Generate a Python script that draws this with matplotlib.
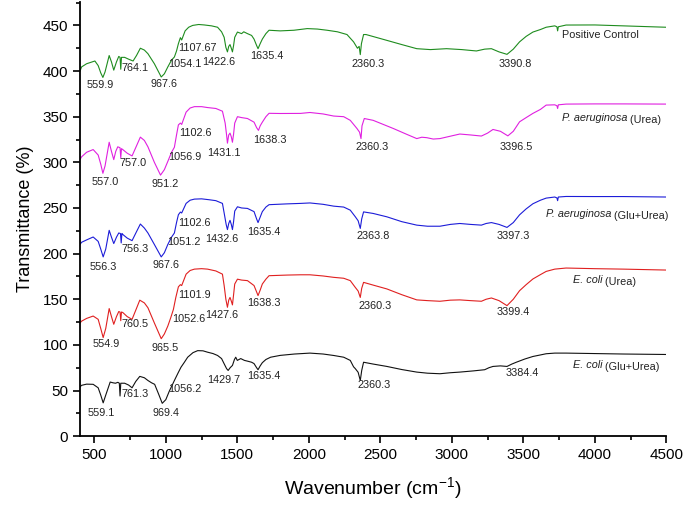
import matplotlib
matplotlib.use("Agg")
import matplotlib.pyplot as plt
from matplotlib.ticker import MultipleLocator

plt.rcParams['font.family'] = ['Liberation Sans', 'DejaVu Sans']
plt.rcParams['mathtext.fontset'] = 'custom'
plt.rcParams['mathtext.rm'] = 'Liberation Sans'

# ---- spectra (wavenumber, transmittance) ----
ctrl_wn = [400, 411, 446, 504, 527, 545, 560, 575, 604, 620, 636, 655, 671, 680, 685, 690,
           712, 740, 771, 795, 822, 850, 875, 920, 968, 990, 1014, 1040, 1060, 1075, 1088,
           1102, 1111, 1135, 1160, 1188, 1230, 1269, 1320, 1362, 1390, 1408, 1420, 1431,
           1440, 1449, 1458, 1466, 1474, 1482, 1501, 1530, 1545, 1571, 1600, 1617, 1635,
           1645, 1660, 1675, 1700, 1722, 1800, 1896, 1989, 2060, 2128, 2200, 2267, 2313,
           2340, 2352, 2360, 2368, 2383, 2400, 2546, 2650, 2755, 2850, 2963, 3070, 3172,
           3230, 3277, 3330, 3386, 3430, 3474, 3520, 3567, 3620, 3660, 3720, 3735, 3740,
           3745, 3799, 4000, 4200, 4495]
ctrl_t = [400, 404.5, 408, 411, 406, 398, 393, 399, 417, 410, 401, 410, 416, 415, 402, 415,
          415, 413, 411, 417, 425, 423, 419, 408, 393.5, 397, 404.5, 412, 415.4, 422, 430,
          436.6, 434, 444, 448, 450, 451, 450.5, 449.5, 448, 443, 437, 426, 421,
          427, 429, 425, 421, 428, 437, 442.7, 441, 443, 441, 439, 435, 428,
          424.5, 430, 435, 441, 444.7, 444, 444.7, 446.5, 446, 444.7, 443, 440, 432,
          425, 427, 418, 430, 440, 440, 433.6, 429, 424.5, 423.5, 424.5, 423.5, 422,
          424, 424.5, 421, 418.3, 424, 432, 438, 442.7, 445.5, 448, 449.5, 448.5, 444,
          448.5, 450.4, 450.5, 449.5, 448]

pu_wn = [400, 411, 446, 492, 527, 545, 560, 575, 604, 620, 636, 650, 664, 680, 685, 690,
         699, 730, 764, 795, 822, 850, 875, 920, 963, 990, 1014, 1040, 1060, 1075, 1088,
         1102, 1111, 1142, 1170, 1200, 1250, 1292, 1350, 1396, 1415, 1425, 1431, 1440,
         1449, 1458, 1466, 1474, 1482, 1501, 1530, 1571, 1617, 1635, 1648, 1660, 1675,
         1700, 1722, 1800, 1942, 2008, 2100, 2174, 2244, 2290, 2337, 2355, 2365, 2372,
         2388, 2450, 2592, 2680, 2755, 2790, 2825, 2870, 2917, 3000, 3056, 3130, 3207,
         3250, 3288, 3340, 3392, 3430, 3474, 3520, 3567, 3620, 3660, 3720, 3735, 3740,
         3745, 3799, 4000, 4200, 4495]
pu_t = [303, 306, 311, 314, 308, 298, 288, 296, 322, 312, 303, 312, 317, 316, 305, 315,
        314, 310, 307, 318, 327.6, 324, 317, 300, 286, 292, 301, 311, 316.5, 330, 341,
        343, 341.5, 355, 359.5, 361, 361, 360, 359, 356, 343, 330, 321, 330,
        332, 328, 322, 331, 343, 350, 349, 348, 344, 338, 335, 340, 344,
        350, 353.7, 353.5, 353.6, 354.6, 353, 350.7, 350, 346, 337, 333, 326, 340,
        348, 346, 337, 331, 326, 327.5, 327, 325.5, 326, 329, 331, 330, 328.8,
        332, 336, 334, 329, 334, 344.4, 349, 353.6, 358, 362.7, 363, 362, 359,
        363, 363.8, 364, 364, 363.8]

pg_wn = [400, 411, 446, 492, 527, 545, 562, 580, 604, 620, 636, 655, 671, 683, 688, 693,
         699, 730, 764, 795, 822, 850, 875, 920, 968, 990, 1014, 1040, 1060, 1075, 1088,
         1102, 1111, 1142, 1170, 1200, 1250, 1304, 1350, 1396, 1408, 1422, 1431, 1440,
         1449, 1458, 1466, 1474, 1482, 1501, 1530, 1571, 1617, 1635, 1645, 1660, 1675,
         1700, 1722, 1850, 1942, 2008, 2100, 2174, 2244, 2290, 2325, 2345, 2360, 2370,
         2383, 2450, 2546, 2650, 2755, 2830, 2917, 2990, 3056, 3130, 3207, 3240, 3277,
         3330, 3386, 3430, 3474, 3520, 3567, 3620, 3660, 3720, 3735, 3740, 3745, 3799,
         4000, 4200, 4495]
pg_t = [210, 212.4, 215, 218.2, 213.4, 205, 196.4, 205, 225.5, 218, 211, 218, 222.6, 222, 211.7, 222,
        221, 217, 214.2, 224, 232.4, 228, 222.6, 210, 196.4, 201, 210, 218, 222.6, 234, 242.6,
        245.5, 244.5, 255, 258.5, 259.7, 260, 259, 258, 255, 244.5, 232, 226.3, 233,
        236.5, 232, 226.3, 235, 246.6, 251.3, 250, 249.5, 246, 238, 234, 240, 246,
        251, 253.6, 254.5, 255, 255.5, 254, 252, 251, 247.6, 240.4, 236, 227.6, 238,
        245.7, 244, 240.3, 235, 231.2, 230, 230, 232, 233, 232, 231.2, 233, 234,
        232, 228.7, 234, 242.5, 249, 254.6, 258.5, 260.8, 262, 261, 258, 262, 262.6,
        262.5, 262.5, 262]

eu_wn = [400, 411, 446, 492, 527, 545, 562, 580, 604, 620, 636, 655, 671, 680, 685, 690,
         699, 730, 764, 795, 818, 850, 875, 920, 968, 990, 1014, 1035, 1053, 1070, 1088,
         1102, 1111, 1142, 1170, 1200, 1250, 1292, 1350, 1396, 1408, 1420, 1431, 1440,
         1449, 1458, 1466, 1474, 1482, 1501, 1530, 1571, 1617, 1635, 1645, 1660, 1675,
         1700, 1722, 1850, 1942, 2008, 2100, 2174, 2244, 2290, 2325, 2345, 2360, 2370,
         2383, 2450, 2546, 2650, 2755, 2830, 2917, 2990, 3056, 3130, 3207, 3240, 3277,
         3330, 3386, 3430, 3474, 3520, 3567, 3620, 3660, 3720, 3799, 4000, 4200, 4495]
eu_t = [124, 126, 129, 131.6, 128, 118, 108, 118, 139.8, 131, 122.6, 131, 136.5, 136, 126.5, 136,
        135.5, 131, 128, 140, 149, 146, 140.7, 124, 106.8, 112, 120.6, 130, 138.8, 152, 163.6,
        166, 165, 177.5, 181.5, 183, 183.5, 183, 181, 177.5, 165, 150, 141.2, 149,
        152, 148, 143.8, 155, 166.7, 172, 171, 170.4, 165, 158, 154, 160, 166.7,
        172, 175.8, 176.5, 176.8, 176.8, 175.5, 174, 173, 170.4, 163, 159, 152, 162,
        168.5, 165.5, 161.3, 155, 149.3, 148.5, 147.8, 149, 149.3, 148.5, 147.8, 150, 151.4,
        148.5, 143, 150, 159.4, 166, 172.2, 177, 180.5, 183, 184.2, 183.5, 183, 182]

eg_wn = [400, 411, 446, 492, 527, 545, 562, 580, 611, 630, 648, 665, 675, 680, 685, 712,
         740, 764, 790, 818, 850, 875, 900, 922, 950, 975, 1000, 1025, 1045, 1060, 1085,
         1106, 1130, 1153, 1190, 1223, 1260, 1292, 1330, 1362, 1390, 1408, 1425, 1436,
         1450, 1466, 1480, 1489, 1500, 1524, 1550, 1571, 1600, 1617, 1635, 1645, 1660,
         1675, 1700, 1733, 1800, 1900, 2008, 2100, 2174, 2244, 2290, 2313, 2325, 2345,
         2360, 2370, 2383, 2450, 2546, 2650, 2755, 2830, 2917, 2990, 3056, 3150, 3230,
         3260, 3288, 3340, 3386, 3420, 3451, 3510, 3567, 3620, 3660, 3720, 3799, 4000,
         4200, 4495]
eg_t = [54, 55.7, 57, 56.8, 53, 45, 36.5, 45, 59.3, 58.5, 58, 59, 58, 44, 58, 58,
        56, 53, 60, 65.5, 64, 61, 58.5, 56.8, 46, 36, 40, 49.5, 56, 61, 69,
        75.5, 81, 86.5, 91.5, 93.7, 93.5, 92, 90.5, 88.4, 85, 79.3, 74, 72,
        75, 77.5, 84, 86.5, 83, 85, 83, 82.2, 81, 79.5, 75, 72.8, 77,
        80.5, 84, 86.5, 88.5, 90, 91, 90, 88.4, 86.5, 83, 76, 74, 70,
        61, 72, 81, 79, 76.4, 73, 70.2, 69, 68.4, 69.5, 70.2, 71.5, 72.8,
        75, 76.4, 77, 76.4, 79, 81, 84.5, 87.3, 89, 90.3, 91, 91, 90.5,
        90, 89.5]

# peak labels: (text, x, y)
ctrl_peaks = [("559.9", 543, 385), ("764.1", 782, 403.4), ("967.6", 986, 385.6),
              ("1054.1", 1135, 407.4), ("1107.67", 1218, 425), ("1422.6", 1373, 410),
              ("1635.4", 1710, 416.5), ("2360.3", 2417, 408), ("3390.8", 3441, 408)]
pu_peaks = [("557.0", 573, 278.3), ("757.0", 771, 299), ("951.2", 995, 276.4),
            ("1056.9", 1130, 306), ("1102.6", 1204, 332.5), ("1431.1", 1403, 310.6),
            ("1638.3", 1728, 324.5), ("2360.3", 2441, 317), ("3396.5", 3450, 317)]
pg_peaks = [("556.3", 562, 185.4), ("756.3", 782, 205), ("967.6", 1002, 187),
            ("1051.2", 1123, 212.8), ("1102.6", 1200, 234), ("1432.6", 1389, 216),
            ("1635.4", 1686, 223.7), ("2363.8", 2448, 219), ("3397.3", 3427, 219)]
eu_peaks = [("554.9", 585, 101), ("760.5", 787, 122.7), ("965.5", 995, 96.4),
            ("1052.6", 1158, 128.2), ("1101.9", 1200, 154.8), ("1427.6", 1389, 132.9),
            ("1638.3", 1686, 145.7), ("2360.3", 2464, 142.8), ("3399.4", 3427, 136.5)]
eg_peaks = [("559.1", 546, 25), ("761.3", 785, 46), ("969.4", 1003, 25),
            ("1056.2", 1134, 52), ("1429.7", 1402, 61.6), ("1635.4", 1686, 66),
            ("2360.3", 2455, 55.7), ("3384.4", 3496, 68.8)]

# sample names: (italic part, plain part)
series = [
    (ctrl_wn, ctrl_t, ctrl_peaks, '#1e8c1e', ('', 'Positive Control'), 3769, 436),
    (pu_wn, pu_t, pu_peaks, '#e020e0', ('P. aeruginosa', ' (Urea)'), 3769, 345.6),
    (pg_wn, pg_t, pg_peaks, '#1c1cd8', ('P. aeruginosa', ' (Glu+Urea)'), 3659, 240.3),
    (eu_wn, eu_t, eu_peaks, '#e02020', ('E. coli', ' (Urea)'), 3846, 168.3),
    (eg_wn, eg_t, eg_peaks, '#111111', ('E. coli', ' (Glu+Urea)'), 3846, 75),
]

fig = plt.figure(figsize=(6.85, 5.07), dpi=100)
ax = fig.add_axes([0.1168, 0.1397, 0.8559, 0.857])

for wn, t, peaks, col, name, nx, ny in series:
    ax.plot(wn, t, color=col, lw=0.8)
    for txt, px, py in peaks:
        ax.text(px, py, txt, fontsize=7.8, ha='center', va='center', color='#222222')
    ital, plain = name
    t1 = ax.text(nx, ny, ital, fontsize=7.8, style='italic', ha='left',
                 va='baseline', color='#222222')
    ax.annotate(plain, xy=(1, 0), xycoords=t1, fontsize=7.8, ha='left',
                va='baseline', color='#222222')

ax.set_xlim(400, 4500)
ax.set_ylim(0, 476)
ax.xaxis.set_major_locator(MultipleLocator(500))
ax.xaxis.set_minor_locator(MultipleLocator(250))
ax.yaxis.set_major_locator(MultipleLocator(50))
ax.yaxis.set_minor_locator(MultipleLocator(25))
ax.tick_params(which='both', direction='out', width=1.2, labelsize=11)
ax.tick_params(which='major', length=5)
ax.tick_params(which='minor', length=3)
ax.spines['top'].set_visible(False)
ax.spines['right'].set_visible(False)
ax.spines['left'].set_linewidth(1.3)
ax.spines['bottom'].set_linewidth(1.3)

ax.set_xlabel(r'Wavenumber (cm$^{-1}$)', fontsize=14, labelpad=10)
ax.set_ylabel('Transmittance (%)', fontsize=13, labelpad=6)

fig.savefig('out.png', dpi=100)
